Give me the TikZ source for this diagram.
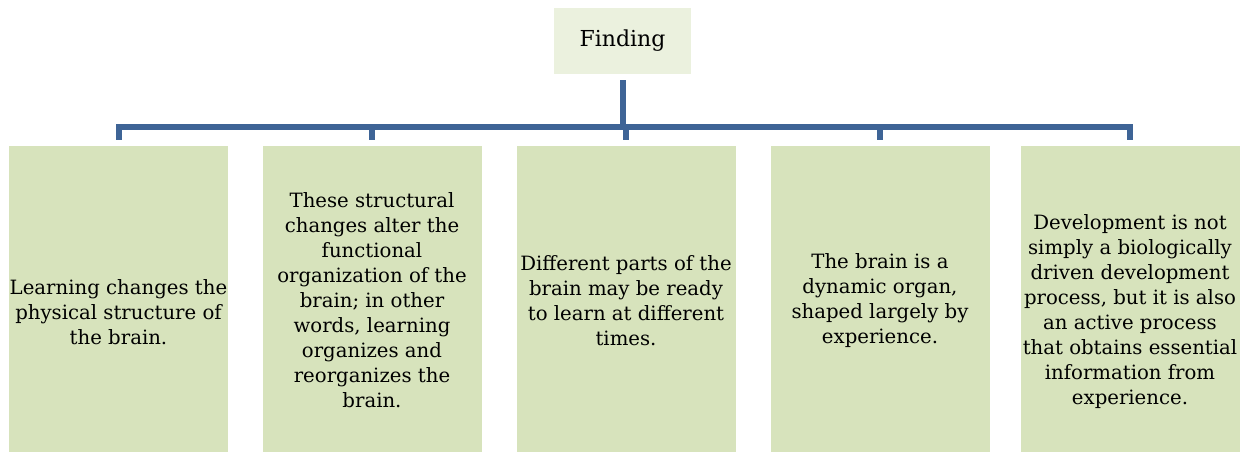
\documentclass[tikz,border=0pt]{standalone}
\usepackage{fontspec}
\setmainfont{DejaVu Serif}
\usetikzlibrary{calc}

\definecolor{findfill}{HTML}{EBF1DE}
\definecolor{boxfill}{HTML}{D7E3BC}
\definecolor{linkblue}{HTML}{3E6496}

\tikzset{
  topbox/.style={fill=findfill, minimum width=137pt, minimum height=66pt, inner sep=0pt, font=\fontsize{22}{26}\selectfont},
  leafbox/.style={fill=boxfill, minimum width=219pt, inner sep=0pt, anchor=north, align=center},
  link/.style={linkblue, line width=6pt}
}

\begin{document}
\begin{tikzpicture}[x=1pt, y=1pt, font=\fontsize{19.7}{25}\selectfont]
          \clip (0,0) rectangle (1243,452); % page size

          \node [topbox] (find) at (622.5,411) {Finding}; % top box

          \node [leafbox, minimum height=332pt] (c1) at (118.5,306) {Learning changes the\\ physical structure of\\ the brain.}; % first box
          \node [leafbox, minimum height=308pt] (c2) at (372,306) {These structural\\ changes alter the\\ functional\\ organization of the\\ brain; in other\\ words, learning\\ organizes and\\ reorganizes the\\ brain.}; % second box
          \node [leafbox, minimum height=308pt] (c3) at (626,306) {Different parts of the\\ brain may be ready\\ to learn at different\\ times.}; % third box
          \node [leafbox, minimum height=308pt] (c4) at (880,306) {The brain is a\\ dynamic organ,\\ shaped largely by\\ experience.}; % fourth box
          \node [leafbox, minimum height=330pt] (c5) at (1130,306) {Development is not\\ simply a biologically\\ driven development\\ process, but it is also\\ an active process\\ that obtains essential\\ information from\\ experience.}; % fifth box

          \coordinate (bar) at (623,324.5);

          \draw [link] ([yshift=-6pt]find.south) -- (find.south |- bar);
          \draw [link] ([yshift=6pt]c1.north) -- (c1.north |- bar) -- (c5.north |- bar) -- ([yshift=6pt]c5.north);
          \foreach \i in {2,3,4}
            \draw [link] (c\i.north |- bar) -- ([yshift=6pt]c\i.north);
\end{tikzpicture}
\end{document}
